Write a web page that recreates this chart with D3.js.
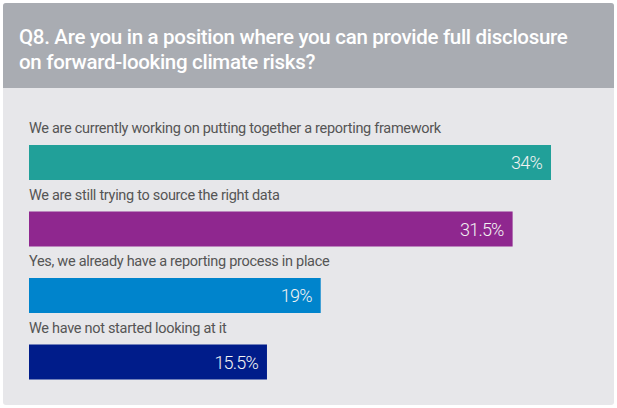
<!DOCTYPE html>
<html>
<head>
<meta charset="utf-8">
<script src="https://cdn.jsdelivr.net/npm/d3@7"></script>
<style>
  body { margin: 0; background: #fff; }
  svg { display: block; }
</style>
</head>
<body>
<svg id="canvas" width="617" height="408"></svg>
<script>
var title = ["Q8. Are you in a position where you can provide full disclosure",
             "on forward-looking climate risks?"];
var answers = [
  "We are currently working on putting together a reporting framework",
  "We are still trying to source the right data",
  "Yes, we already have a reporting process in place",
  "We have not started looking at it"
];
var values = [34, 31.5, 19, 15.5];
var valueLabels = ["34%", "31.5%", "19%", "15.5%"];
var colors = ["#21a099", "#8f278f", "#0084cc", "#001c8a"];

var svg = d3.select("#canvas"),
    font = "Roboto, 'DejaVu Sans', sans-serif";

// panel
svg.append("rect")
  .attr("x", 3).attr("y", 3)
  .attr("width", 611).attr("height", 402)
  .attr("rx", 3)
  .style("fill", "#e7e7ea");

svg.append("path")
  .attr("d", "M3,88 V6 a3,3 0 0 1 3,-3 H611 a3,3 0 0 1 3,3 V88 Z")
  .style("fill", "#a9acb2");

svg.append("g")
  .selectAll("text")
  .data(title)
  .enter()
  .append("text")
  .attr("x", 19)
  .attr("y", function(d, i) { return 44 + i * 25; })
  .style("font-family", font)
  .style("font-size", "20.5px")
  .style("font-weight", 500)
  .style("letter-spacing", "-0.3px")
  .style("fill", "#fff")
  .text(function(d) { return d; });

// bars
var x = d3.scaleLinear()
  .domain([0, 34])
  .range([0, 522]);

var y = d3.scaleBand()
  .domain(d3.range(answers.length))
  .range([112, 378])
  .paddingInner(0);

var row = svg.append("g")
  .selectAll("g")
  .data(values)
  .enter()
  .append("g")
  .attr("transform", function(d, i) { return "translate(29," + y(i) + ")"; });

row.append("text")
  .attr("x", 0)
  .attr("y", 21)
  .style("font-family", font)
  .style("font-size", "14.5px")
  .style("letter-spacing", "-0.3px")
  .style("fill", "#555")
  .text(function(d, i) { return answers[i]; });

row.append("rect")
  .attr("x", 0)
  .attr("y", 33)
  .attr("width", function(d) { return x(d); })
  .attr("height", 35)
  .style("fill", function(d, i) { return colors[i]; });

row.append("text")
  .attr("x", function(d) { return x(d) - 9; })
  .attr("y", 57)
  .attr("text-anchor", "end")
  .style("font-family", font)
  .style("font-size", "18px")
  .style("font-weight", 300)
  .style("letter-spacing", "-0.8px")
  .style("fill", "#f2f2f2")
  .text(function(d, i) { return valueLabels[i]; });
</script>
</body>
</html>
